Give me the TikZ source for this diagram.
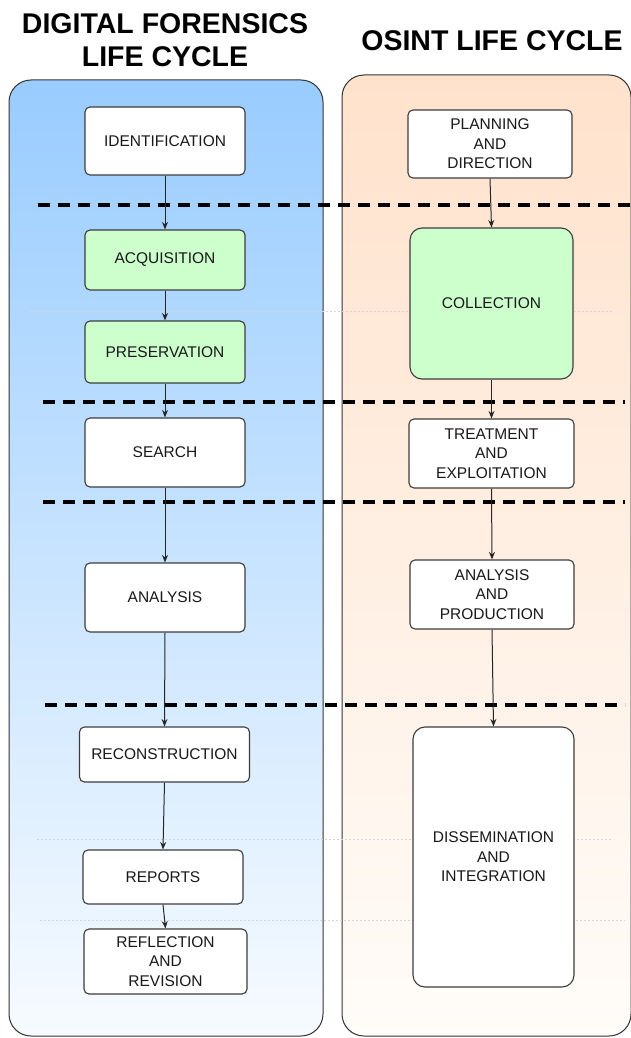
\documentclass[tikz,border=0pt]{standalone}
\usepackage{fontspec}
\setmainfont{Liberation Sans}
\usetikzlibrary{arrows.meta}
\pgfdeclarelayer{bg}
\pgfsetlayers{bg,main}
\definecolor{boxline}{HTML}{3C3C3C}
\definecolor{stagegreen}{HTML}{CCFFCC}
\definecolor{dfblue}{HTML}{99CCFF}
\definecolor{dfbluelow}{HTML}{F7FBFF}
\definecolor{osintpeach}{HTML}{FFE2CC}
\definecolor{osintlow}{HTML}{FFFCF9}
\definecolor{panelline}{HTML}{333333}
\definecolor{guidegray}{HTML}{D6D6D6}
\begin{document}
\begin{tikzpicture}[x=1pt,y=1pt,
  stage/.style={draw=boxline, line width=1.1pt, fill=white, rounded corners=5pt, align=center, inner sep=0pt, text=black!90, font=\fontsize{15.5}{19.5}\selectfont},
  bigstage/.style={stage, rounded corners=12pt},
  greenstage/.style={stage, fill=stagegreen},
  flow/.style={draw=black!85, line width=1pt, -{Stealth[length=7.5pt,width=6pt]}},
  phase/.style={line width=3.2pt, dash pattern=on 12pt off 8pt, black},
  guide/.style={draw=guidegray, line width=1pt, dash pattern=on 2pt off 2pt},
  panel/.style={draw=panelline, line width=1pt, rounded corners=22pt},
  title/.style={font=\fontsize{28.5}{33.5}\selectfont\bfseries, align=center}]
\useasboundingbox (0,0) rectangle (630,-1038);
\clip (0,0) rectangle (630,-1038);

% titles
\node[title] (dftitle) at (165,-40) {DIGITAL FORENSICS\\LIFE CYCLE};
\node[title] (ostitle) at (492,-41) {OSINT LIFE CYCLE};

% digital forensics stages
\node[stage, minimum width=160pt, minimum height=68pt] (ident) at (165,-141) {IDENTIFICATION};
\node[greenstage, minimum width=160pt, minimum height=60pt] (acq) at (165,-260) {ACQUISITION};
\node[greenstage, minimum width=160pt, minimum height=62pt] (pres) at (165,-352) {PRESERVATION};
\node[stage, minimum width=160pt, minimum height=69pt] (search) at (165,-452.5) {SEARCH};
\node[stage, minimum width=160pt, minimum height=69pt] (analysis) at (165,-597.5) {ANALYSIS};
\node[stage, minimum width=170pt, minimum height=55pt] (recon) at (164.5,-754.5) {RECONSTRUCTION};
\node[stage, minimum width=160pt, minimum height=54pt] (reports) at (163,-877) {REPORTS};
\node[stage, minimum width=163pt, minimum height=65pt] (refl) at (165.5,-961.5) {REFLECTION\\AND\\REVISION};

% osint stages
\node[stage, minimum width=164pt, minimum height=68pt] (plan) at (490,-144) {PLANNING\\AND\\DIRECTION};
\node[greenstage, bigstage, fill=stagegreen, minimum width=163pt, minimum height=151pt] (coll) at (491.5,-303.5) {COLLECTION};
\node[stage, minimum width=165pt, minimum height=69pt] (treat) at (491.5,-453.5) {TREATMENT\\AND\\EXPLOITATION};
\node[stage, minimum width=164pt, minimum height=69pt] (anprod) at (492,-594.5) {ANALYSIS\\AND\\PRODUCTION};
\node[bigstage, minimum width=161pt, minimum height=260pt] (diss) at (493.5,-857) {DISSEMINATION\\AND\\INTEGRATION};

% background: panels and separators
\begin{pgfonlayer}{bg}
\path[panel, top color=dfblue, bottom color=dfbluelow] (9,-80) rectangle (323,-1036);
\path[panel, top color=osintpeach, bottom color=osintlow] (342,-75) rectangle (631,-1036);
\draw[guide] (30,-311) -- (612,-311);
\draw[guide] (37,-839) -- (612,-839);
\draw[guide] (40,-920) -- (625,-920);
\draw[phase] (38,-205) -- (630,-205);
\draw[phase] (43,-402) -- (625,-402);
\draw[phase] (43,-502) -- (625,-502);
\draw[phase] (45,-705) -- (625,-705);
\end{pgfonlayer}

% flows
\draw[flow] (ident.south) -- (acq.north);
\draw[flow] (acq.south) -- (pres.north);
\draw[flow] (pres.south) -- (search.north);
\draw[flow] (search.south) -- (analysis.north);
\draw[flow] (analysis.south) -- (recon.north);
\draw[flow] (recon.south) -- (reports.north);
\draw[flow] (reports.south) -- (refl.north);
\draw[flow] (plan.south) -- (coll.north);
\draw[flow] (coll.south) -- (treat.north);
\draw[flow] (treat.south) -- (anprod.north);
\draw[flow] (anprod.south) -- (diss.north);
\end{tikzpicture}
\end{document}
